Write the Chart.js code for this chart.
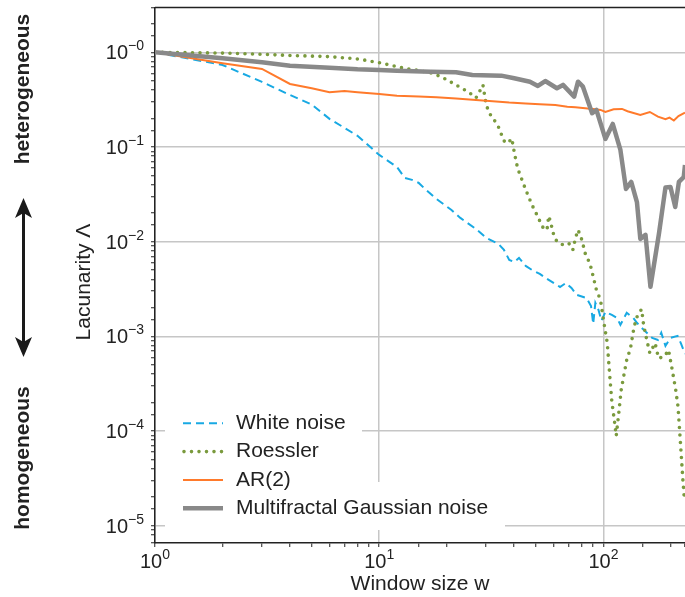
<!DOCTYPE html>
<html>
<head>
<meta charset="utf-8">
<script src="https://cdn.jsdelivr.net/npm/chart.js@4.4.1/dist/chart.umd.min.js"></script>
<style>
  html, body { margin: 0; padding: 0; background: #fff; }
  #wrap { width: 685px; height: 597px; }
</style>
</head>
<body>
<div id="wrap"><canvas id="chart" width="685" height="597"></canvas></div>
<script>
// Axis tick labels (powers of ten) and series names
const windowTickValues = [1, 10, 100];
const windowTickExps = ['0', '1', '2'];
const lacunarityTickValues = [1, 1e-1, 1e-2, 1e-3, 1e-4, 1e-5];
const lacunarityTickExps = ['\u22120', '\u22121', '\u22122', '\u22123', '\u22124', '\u22125'];
const seriesNames = ['White noise', 'Roessler', 'AR(2)', 'Multifractal Gaussian noise'];

// Lacunarity versus window size w
const whiteNoiseW = [1,2,3,4,5,6,7,8,10,12,13,14,15,16,18,21,23,27,30,34,36,38,40,42,45,48,52,56,61,64,68,72,76,84,88,90,92,95,98,102,109,115,119,127,136,141,148,156,165,175,181,189,199,214,222,231];
const whiteNoiseL = [1,0.734,0.486,0.354,0.281,0.198,0.159,0.131,0.0824,0.0615,0.0471,0.0449,0.0417,0.036,0.0282,0.0216,0.0178,0.0136,0.01094,0.00946,0.00817,0.00641,0.0061,0.00673,0.00554,0.00502,0.00456,0.00404,0.00357,0.00332,0.00366,0.00324,0.00274,0.00254,0.00209,0.00135,0.00226,0.0019,0.00146,0.00181,0.00168,0.00156,0.00132,0.00177,0.00156,0.00139,0.00123,0.00109,0.000962,0.000916,0.00109,0.000792,0.000962,0.00101,0.000832,0.000652];

const roesslerW = [1,2,3,4,6,8,10,13,15,17,19,21,23,25,27,28,29,30,31,32,33,34,35,36,37,38,39,40,41,42,44,46,48,50,52,54,56,57,58,60,62,66,70,73,75,77,79,81,82,84,87,90,93,97,100,104,107,109,112,114,117,120,123,127,132,137,142,148,151,156,161,170,176,187,195,202,210,215,218,222,226,229];
const roesslerL = [1,0.98,0.952,0.925,0.899,0.85,0.777,0.675,0.642,0.605,0.548,0.48,0.425,0.381,0.329,0.384,0.452,0.278,0.228,0.202,0.184,0.163,0.137,0.116,0.109,0.1138,0.123,0.0885,0.0661,0.0544,0.0406,0.0311,0.0244,0.0201,0.0165,0.0138,0.0133,0.01867,0.01627,0.01177,0.01,0.00923,0.00962,0.00817,0.01086,0.0133,0.01148,0.00962,0.00804,0.00695,0.00592,0.00427,0.00309,0.00242,0.00149,0.00085,0.000347,0.000204,0.000126,0.0000887,0.000154,0.000272,0.000375,0.000564,0.000749,0.001266,0.00168,0.00193,0.00132,0.000916,0.000664,0.000846,0.000587,0.000611,0.000718,0.00046,0.000272,0.000181,0.000111,0.0000583,0.0000305,0.0000203];

const ar2W = [1,2,3,4,5,6,7,8,10,12,15,18,22,27,31,38,45,52,61,69,75,85,90,97,102,111,121,128,146,161,175,189,197,206,216,231];
const ar2L = [1,0.765,0.667,0.463,0.417,0.378,0.39,0.378,0.363,0.348,0.34,0.335,0.325,0.313,0.306,0.294,0.288,0.282,0.277,0.266,0.262,0.254,0.252,0.246,0.234,0.25,0.252,0.238,0.218,0.234,0.209,0.196,0.204,0.19,0.212,0.23];

const mgnW = [1,2,3,4,6,8,10,12,17,22,26,35,40,47,51,55,62,66,74,77,81,89,93,102,110,119,126,133,141,146,154,162,177,189,199,209,217,228,231];
const mgnL = [1,0.864,0.784,0.722,0.688,0.661,0.650,0.639,0.624,0.615,0.576,0.566,0.531,0.489,0.441,0.497,0.417,0.452,0.340,0.489,0.433,0.227,0.246,0.1215,0.175,0.0929,0.036,0.0427,0.0262,0.01068,0.01178,0.00333,0.01235,0.0373,0.0378,0.0232,0.0427,0.0479,0.0646];

const BLUE = '#18a9e3';
const GREEN = '#7a9a3d';
const ORANGE = '#ff7a2b';
const GRAY = '#898989';
const INK = '#222222';
const FONT = '"Liberation Sans", Arial, Helvetica, sans-serif';

const toPoints = (w, l) => w.map((x, i) => ({ x: x, y: l[i] }));

const styles = [
  { color: BLUE, width: 2, dash: [8, 5], cap: 'butt' },
  { color: GREEN, width: 3.6, dash: [0, 7.5], cap: 'round' },
  { color: ORANGE, width: 2, dash: [], cap: 'butt' },
  { color: GRAY, width: 4.5, dash: [], cap: 'butt' }
];

function drawPower(ctx, exp, x, y, align) {
  ctx.font = '20px ' + FONT;
  const wb = ctx.measureText('10').width;
  ctx.font = '14px ' + FONT;
  const we = ctx.measureText(exp).width;
  let start = align === 'right' ? x - wb - we : x - (wb + we) / 2;
  ctx.textAlign = 'left';
  ctx.textBaseline = 'alphabetic';
  ctx.font = '20px ' + FONT;
  ctx.fillText('10', start, y + 7);
  ctx.font = '14px ' + FONT;
  ctx.fillText(exp, start + wb, y - 2);
}

const decor = {
  id: 'decor',
  afterDraw(chart) {
    const ctx = chart.ctx;
    const area = chart.chartArea;
    const xs = chart.scales.x, ys = chart.scales.y;
    ctx.save();

    // top frame line
    ctx.strokeStyle = INK;
    ctx.lineWidth = 1.5;
    ctx.beginPath();
    ctx.moveTo(area.left, area.top);
    ctx.lineTo(area.right, area.top);
    ctx.stroke();

    // tick labels
    ctx.fillStyle = INK;
    lacunarityTickValues.forEach((v, i) => {
      drawPower(ctx, lacunarityTickExps[i], 144, ys.getPixelForValue(v), 'right');
    });
    windowTickValues.forEach((v, i) => {
      drawPower(ctx, windowTickExps[i], xs.getPixelForValue(v), 561, 'center');
    });

    // axis titles
    ctx.font = '21px ' + FONT;
    ctx.textAlign = 'center';
    ctx.textBaseline = 'middle';
    ctx.fillText('Window size w', (area.left + area.right) / 2, 584);
    ctx.save();
    ctx.translate(84, 282);
    ctx.rotate(-Math.PI / 2);
    ctx.fillText('Lacunarity \u039B', 0, 0);
    ctx.restore();

    // side annotation
    ctx.font = 'bold 21px ' + FONT;
    ctx.save();
    ctx.translate(23, 89);
    ctx.rotate(-Math.PI / 2);
    ctx.fillText('heterogeneous', 0, 0);
    ctx.restore();
    ctx.save();
    ctx.translate(23, 458);
    ctx.rotate(-Math.PI / 2);
    ctx.fillText('homogeneous', 0, 0);
    ctx.restore();

    // double-headed arrow
    const ax = 23.5, top = 198, bot = 357;
    ctx.strokeStyle = '#1a1a1a';
    ctx.fillStyle = '#1a1a1a';
    ctx.lineWidth = 3;
    ctx.beginPath();
    ctx.moveTo(ax, top + 14);
    ctx.lineTo(ax, bot - 14);
    ctx.stroke();
    ctx.beginPath();
    ctx.moveTo(ax, top);
    ctx.lineTo(ax - 8.5, top + 20);
    ctx.lineTo(ax, top + 15);
    ctx.lineTo(ax + 8.5, top + 20);
    ctx.closePath();
    ctx.fill();
    ctx.beginPath();
    ctx.moveTo(ax, bot);
    ctx.lineTo(ax - 8.5, bot - 20);
    ctx.lineTo(ax, bot - 15);
    ctx.lineTo(ax + 8.5, bot - 20);
    ctx.closePath();
    ctx.fill();

    // legend
    ctx.fillStyle = '#ffffff';
    ctx.fillRect(165, 405, 197, 77);
    ctx.fillRect(165, 482, 340, 48);
    const rows = [423.3, 451.6, 479.9, 508.2];
    seriesNames.forEach((name, i) => {
      const s = styles[i];
      ctx.strokeStyle = s.color;
      ctx.lineWidth = s.width;
      ctx.lineCap = s.cap;
      ctx.setLineDash(s.dash);
      ctx.beginPath();
      ctx.moveTo(i === 1 ? 184 : 183, rows[i]);
      ctx.lineTo(223, rows[i]);
      ctx.stroke();
      ctx.setLineDash([]);
      ctx.fillStyle = INK;
      ctx.font = '21px ' + FONT;
      ctx.textAlign = 'left';
      ctx.textBaseline = 'middle';
      ctx.fillText(name, 236, rows[i]);
    });
    ctx.restore();
  }
};

const gridColor = (c) => (c.tick && c.tick.major ? '#c6c6c6' : 'rgba(0,0,0,0)');

new Chart(document.getElementById('chart'), {
  type: 'line',
  data: {
    datasets: [
      { label: seriesNames[0], data: toPoints(whiteNoiseW, whiteNoiseL), borderColor: BLUE, borderWidth: 2, borderDash: [8, 5], order: 3 },
      { label: seriesNames[1], data: toPoints(roesslerW, roesslerL), borderColor: GREEN, borderWidth: 3.6, borderDash: [0, 7.5], borderCapStyle: 'round', order: 2 },
      { label: seriesNames[2], data: toPoints(ar2W, ar2L), borderColor: ORANGE, borderWidth: 2, order: 1 },
      { label: seriesNames[3], data: toPoints(mgnW, mgnL), borderColor: GRAY, borderWidth: 4.5, borderJoinStyle: 'round', order: 0 }
    ]
  },
  options: {
    responsive: false,
    animation: false,
    devicePixelRatio: 1,
    elements: { point: { radius: 0 }, line: { tension: 0, fill: false } },
    layout: { padding: { top: 7.5, left: 0, right: 0, bottom: 0 } },
    plugins: { legend: { display: false }, tooltip: { enabled: false } },
    scales: {
      x: {
        type: 'logarithmic', min: 1, max: 231,
        ticks: { display: false },
        grid: { color: gridColor, lineWidth: 1.5, drawTicks: true, tickLength: 4, tickColor: INK, tickWidth: 1 },
        border: { display: true, color: INK, width: 1.5 },
        afterFit(s) { s.height = 54; }
      },
      y: {
        type: 'logarithmic', min: 6.56e-6, max: 2.97,
        ticks: { display: false },
        grid: { color: gridColor, lineWidth: 1.5, drawTicks: true, tickLength: 4, tickColor: INK, tickWidth: 1 },
        border: { display: true, color: INK, width: 1.5 },
        afterFit(s) { s.width = 155; }
      }
    }
  },
  plugins: [decor]
});
</script>
</body>
</html>
